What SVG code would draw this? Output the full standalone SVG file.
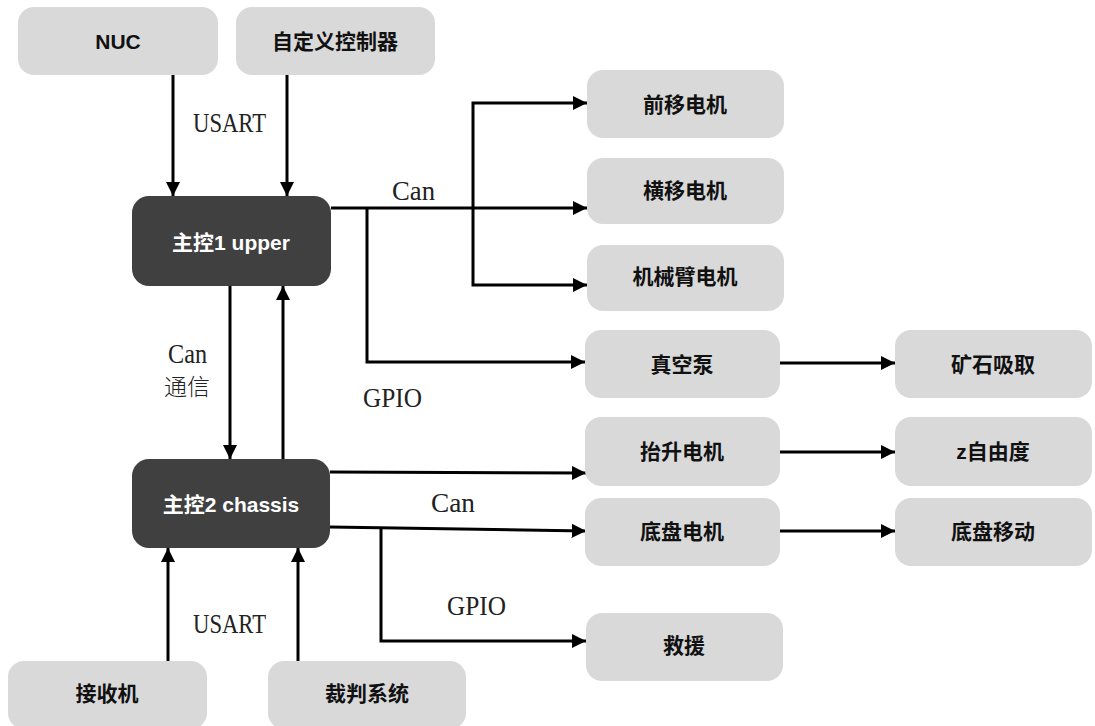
<svg xmlns="http://www.w3.org/2000/svg" width="1095" height="726" viewBox="0 0 1095 726">
<defs>
<marker id="arr" viewBox="0 0 10 10" markerWidth="4.8" markerHeight="4.8" refX="10" refY="5" orient="auto" markerUnits="strokeWidth">
<path d="M0,0 L10,5 L0,10 z" fill="#000"/>
</marker>
<style>
.box{fill:#d9d9d9}
.dark{fill:#404040}
.t{font-family:"Liberation Sans","Noto Sans CJK SC",sans-serif;font-size:21px;font-weight:bold;fill:#111;text-anchor:middle;dominant-baseline:central}
.tw{fill:#fff;font-weight:bold}
.ln{fill:none;stroke:#000;stroke-width:3;marker-end:url(#arr)}
.lb{font-family:"Liberation Serif","Noto Sans CJK SC",serif;font-size:28px;fill:#222}
.lbc{font-family:"Noto Sans CJK SC",sans-serif;font-size:23px;fill:#222;font-weight:300}
</style>
</defs>
<rect width="1095" height="726" fill="#fff"/>

<g id="connectors">
<path class="ln" d="M173,75 V196"/>
<path class="ln" d="M287,75 V196"/>
<path class="ln" d="M331,208 H587"/>
<path class="ln" d="M473,208 V103 H587"/>
<path class="ln" d="M473,208 V285 H587"/>
<path class="ln" d="M367,208 V362 H585"/>
<path class="ln" d="M779,363 H895"/>
<path class="ln" d="M230,286 V459"/>
<path class="ln" d="M283,459 V286"/>
<path class="ln" d="M330,472 L586,473"/>
<path class="ln" d="M330,527 L586,531"/>
<path class="ln" d="M381,528 V641 H586"/>
<path class="ln" d="M779,452 H895"/>
<path class="ln" d="M779,531 H895"/>
<path class="ln" d="M168,661 V548"/>
<path class="ln" d="M298,661 V548"/>
<text class="lb" x="193" y="132" textLength="73" lengthAdjust="spacingAndGlyphs">USART</text>
<text class="lb" x="392" y="200" textLength="43" lengthAdjust="spacingAndGlyphs">Can</text>
<text class="lb" x="168" y="363" font-size="23" textLength="39" lengthAdjust="spacingAndGlyphs">Can</text>
<text class="lbc" x="164" y="395">通信</text>
<text class="lb" x="363" y="407" textLength="59" lengthAdjust="spacingAndGlyphs">GPIO</text>
<text class="lb" x="431" y="512" textLength="44" lengthAdjust="spacingAndGlyphs">Can</text>
<text class="lb" x="447" y="615" textLength="59" lengthAdjust="spacingAndGlyphs">GPIO</text>
<text class="lb" x="193" y="633" textLength="73" lengthAdjust="spacingAndGlyphs">USART</text>
</g>

<g id="nuc"><rect class="box" x="18" y="7" width="200" height="68" rx="16"/><text class="t" x="118" y="41">NUC</text></g>
<g id="custom"><rect class="box" x="236" y="7" width="199" height="68" rx="16"/><text class="t" x="335" y="41">自定义控制器</text></g>
<g id="main1"><rect class="dark" x="132" y="196" width="199" height="90" rx="17"/><text class="t tw" x="231" y="242">主控1 upper</text></g>
<g id="main2"><rect class="dark" x="132" y="459" width="198" height="89" rx="17"/><text class="t tw" x="231" y="504">主控2 chassis</text></g>
<g id="m-front"><rect class="box" x="587" y="70" width="197" height="68" rx="16"/><text class="t" x="685" y="104">前移电机</text></g>
<g id="m-side"><rect class="box" x="587" y="158" width="197" height="66" rx="16"/><text class="t" x="685" y="190">横移电机</text></g>
<g id="m-arm"><rect class="box" x="587" y="245" width="197" height="66" rx="16"/><text class="t" x="685" y="276">机械臂电机</text></g>
<g id="pump"><rect class="box" x="585" y="330" width="195" height="68" rx="16"/><text class="t" x="682" y="364">真空泵</text></g>
<g id="lift"><rect class="box" x="585" y="417" width="195" height="69" rx="16"/><text class="t" x="682" y="451">抬升电机</text></g>
<g id="chassis-m"><rect class="box" x="585" y="498" width="195" height="68" rx="16"/><text class="t" x="682" y="531">底盘电机</text></g>
<g id="rescue"><rect class="box" x="586" y="613" width="197" height="68" rx="16"/><text class="t" x="684" y="645">救援</text></g>
<g id="ore"><rect class="box" x="895" y="330" width="197" height="68" rx="16"/><text class="t" x="993" y="364">矿石吸取</text></g>
<g id="zdof"><rect class="box" x="895" y="417" width="197" height="69" rx="16"/><text class="t" x="993" y="451">z自由度</text></g>
<g id="chassis-move"><rect class="box" x="895" y="498" width="197" height="68" rx="16"/><text class="t" x="993" y="531">底盘移动</text></g>
<g id="receiver"><rect class="box" x="8" y="661" width="199" height="68" rx="16"/><text class="t" x="107" y="693">接收机</text></g>
<g id="referee"><rect class="box" x="268" y="661" width="198" height="68" rx="16"/><text class="t" x="367" y="693">裁判系统</text></g>
</svg>
